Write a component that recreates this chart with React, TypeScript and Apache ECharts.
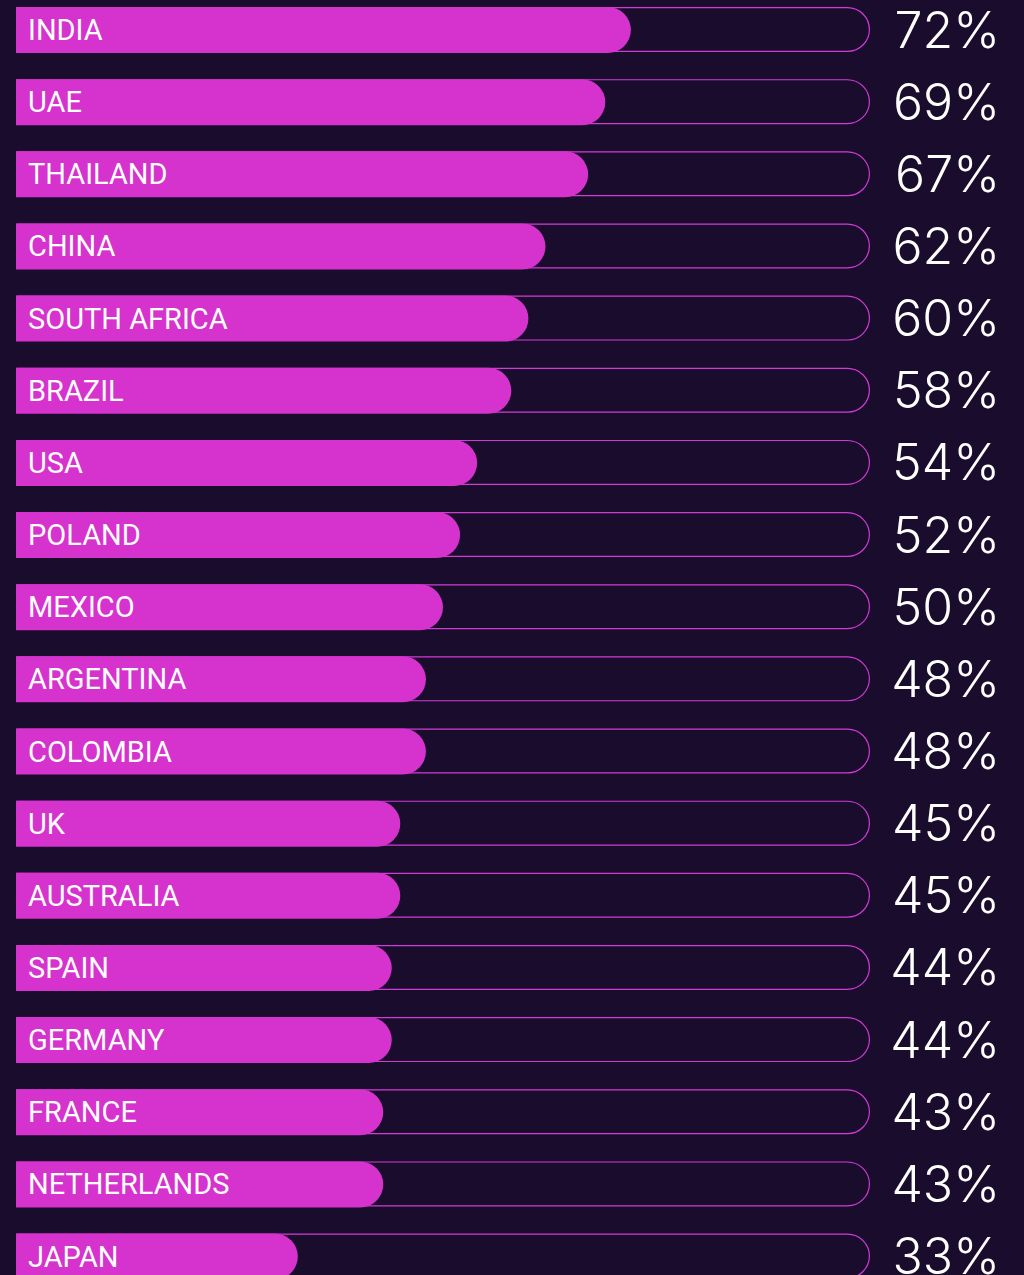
import React, { useEffect, useRef } from "react";
import * as echarts from "echarts";

const countries = [
  "INDIA", "UAE", "THAILAND", "CHINA", "SOUTH AFRICA", "BRAZIL", "USA", "POLAND", "MEXICO",
  "ARGENTINA", "COLOMBIA", "UK", "AUSTRALIA", "SPAIN", "GERMANY", "FRANCE", "NETHERLANDS", "JAPAN",
];
const values = [72, 69, 67, 62, 60, 58, 54, 52, 50, 48, 48, 45, 45, 44, 44, 43, 43, 33];
const trackMax = 100;

const BG = "#1a0c2c";
const FILL = "#d632cd";
const BORDER = "#d23ad6";
const SHIFT = 20;

export default function App() {
  const ref = useRef<HTMLDivElement>(null);
  useEffect(() => {
    document.body.style.margin = "0";
    document.body.style.overflow = "hidden";
    document.body.style.background = BG;
    const chart = echarts.init(ref.current!, null, { renderer: "svg" });
    const rowPitch = 72.15;
    const firstCenter = 30 + SHIFT;
    const top = firstCenter - rowPitch / 2;
    chart.setOption({
      animation: false,
      backgroundColor: BG,
      grid: { left: 16, right: 1024 - 870, top, height: rowPitch * countries.length, containLabel: false },
      xAxis: { type: "value", min: 0, max: trackMax, show: false },
      yAxis: {
        type: "category",
        inverse: true,
        data: countries,
        show: false,
      },
      series: [
        {
          type: "bar",
          data: countries.map(() => trackMax),
          barWidth: 45,
          barGap: "-100%",
          silent: true,
          itemStyle: {
            color: BG,
            borderColor: BORDER,
            borderWidth: 1.2,
            borderRadius: [0, 23, 23, 0],
          },
          label: {
            show: true,
            position: ["100%", "50%"],
            offset: [130, 0],
            align: "right",
            verticalAlign: "middle",
            formatter: (p: any) => values[p.dataIndex] + "%",
            color: "#ffffff",
            fontFamily: "Inter",
            fontWeight: 300,
            fontSize: 50,
          },
          z: 1,
        },
        {
          type: "bar",
          data: values,
          barWidth: 46,
          silent: true,
          itemStyle: {
            color: FILL,
            borderRadius: [0, 23, 23, 0],
          },
          label: {
            show: true,
            position: "insideLeft",
            distance: 12,
            formatter: (p: any) => countries[p.dataIndex],
            color: "#ffffff",
            fontFamily: "Roboto",
            fontWeight: 400,
            fontSize: 29,
          },
          z: 2,
        },
      ],
    });
    return () => chart.dispose();
  }, []);
  return (
    <div style={{ position: "relative", width: 1024, height: 1275, overflow: "hidden" }}>
      <div ref={ref} style={{ position: "absolute", left: 0, top: -SHIFT, width: 1024, height: 1340 }} />
    </div>
  );
}
